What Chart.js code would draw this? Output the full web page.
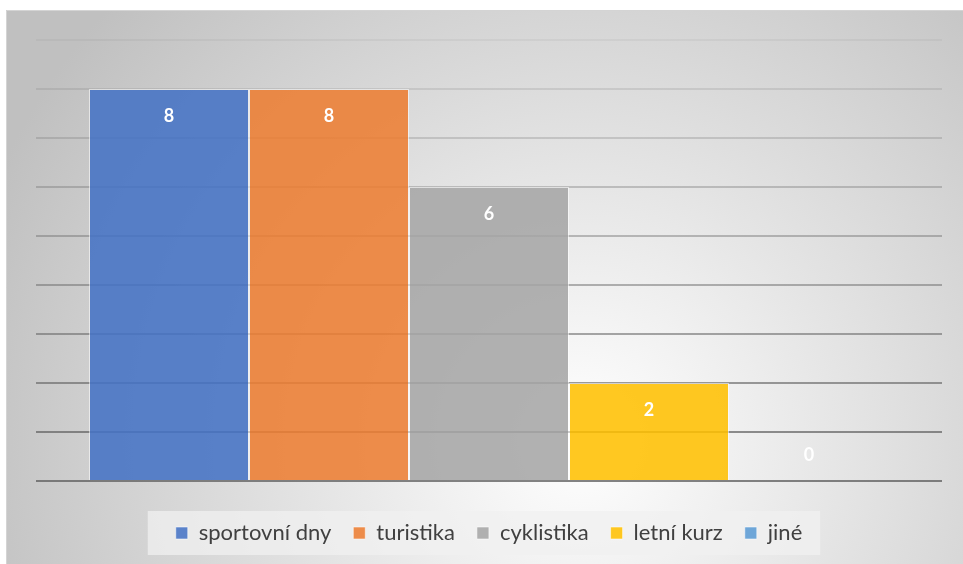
<!DOCTYPE html>
<html>
<head>
<meta charset="utf-8">
<script src="https://cdn.jsdelivr.net/npm/chart.js@4.4.0/dist/chart.umd.min.js"></script>
<style>
  html, body { margin: 0; padding: 0; background: #fff; }
</style>
</head>
<body>
<canvas id="chart" width="963" height="564"></canvas>
<script>
const categories = [''];
const seriesNames = ['sportovní dny', 'turistika', 'cyklistika', 'letní kurz', 'jiné'];
const seriesValues = [8, 8, 6, 2, 0];
const seriesColors = ['#4472C4', '#ED7D31', '#A5A5A5', '#FFC000', '#5B9BD5'];
const yTicks = [0, 1, 2, 3, 4, 5, 6, 7, 8, 9];

function alpha(hex, a) {
  const n = parseInt(hex.slice(1), 16);
  return `rgba(${n >> 16},${(n >> 8) & 255},${n & 255},${a})`;
}

// pozadí s radiálním přechodem + rámeček legendy
const backdrop = {
  id: 'backdrop',
  beforeDraw(chart) {
    const c = chart.ctx;
    const w = chart.width, h = chart.height;
    c.save();
    const g = c.createRadialGradient(580, 440, 0, 580, 440, 640);
    g.addColorStop(0, '#ffffff');
    g.addColorStop(1, '#c0c0c0');
    c.fillStyle = g;
    c.fillRect(6, 10, w - 6, h - 10);
    c.strokeStyle = '#d4d4d4';
    c.lineWidth = 1;
    c.beginPath();
    c.moveTo(6.5, h);
    c.lineTo(6.5, 10.5);
    c.lineTo(w, 10.5);
    c.stroke();
    const lg = chart.legend;
    if (lg && lg.legendHitBoxes.length) {
      const first = lg.legendHitBoxes[0];
      const last = lg.legendHitBoxes[lg.legendHitBoxes.length - 1];
      const x0 = first.left - 28;
      const x1 = last.left + last.width + 18;
      c.fillStyle = 'rgba(240,240,240,0.75)';
      c.fillRect(x0, 511, x1 - x0, 44);
    }
    c.restore();
  }
};

// popisky hodnot uvnitř sloupců
const barLabels = {
  id: 'barLabels',
  afterDatasetsDraw(chart) {
    const c = chart.ctx;
    c.save();
    c.font = 'bold 18px Lato, "DejaVu Sans", sans-serif';
    c.fillStyle = '#ffffff';
    c.textAlign = 'center';
    c.textBaseline = 'middle';
    chart.data.datasets.forEach((ds, i) => {
      const meta = chart.getDatasetMeta(i);
      meta.data.forEach((bar, j) => {
        const v = ds.data[j];
        const y = v > 0 ? bar.y + 27 : bar.y - 26;
        c.fillText(String(v), bar.x, y);
      });
    });
    c.restore();
  }
};

new Chart(document.getElementById('chart'), {
  type: 'bar',
  data: {
    labels: categories,
    datasets: seriesNames.map((name, i) => ({
      label: name,
      data: [seriesValues[i]],
      backgroundColor: alpha(seriesColors[i], 0.87),
      borderColor: 'rgba(255,255,255,0.55)',
      borderWidth: 1,
      borderSkipped: 'bottom'
    }))
  },
  options: {
    responsive: false,
    animation: false,
    events: [],
    layout: { padding: { left: 36, right: 21, top: 40, bottom: 10 } },
    datasets: { bar: { categoryPercentage: 0.883, barPercentage: 1 } },
    scales: {
      x: {
        display: true,
        ticks: { display: false },
        grid: { display: false },
        border: { display: false },
        afterFit(axis) { axis.height = 19; }
      },
      y: {
        min: 0, max: 9,
        afterBuildTicks(axis) { axis.ticks = yTicks.map(v => ({ value: v })); },
        ticks: { display: false },
        border: { display: false },
        grid: {
          lineWidth: 2,
          drawTicks: false,
          color(ctx) {
            const v = ctx.tick ? ctx.tick.value : 0;
            const a = 0.8 - v * 0.08;
            return `rgba(100,100,100,${a})`;
          }
        }
      }
    },
    plugins: {
      legend: {
        position: 'bottom',
        labels: {
          boxWidth: 12,
          boxHeight: 12,
          padding: 22,
          color: '#404040',
          font: { family: 'Lato, "DejaVu Sans", sans-serif', size: 22 }
        }
      },
      tooltip: { enabled: false }
    }
  },
  plugins: [backdrop, barLabels]
});
</script>
</body>
</html>
